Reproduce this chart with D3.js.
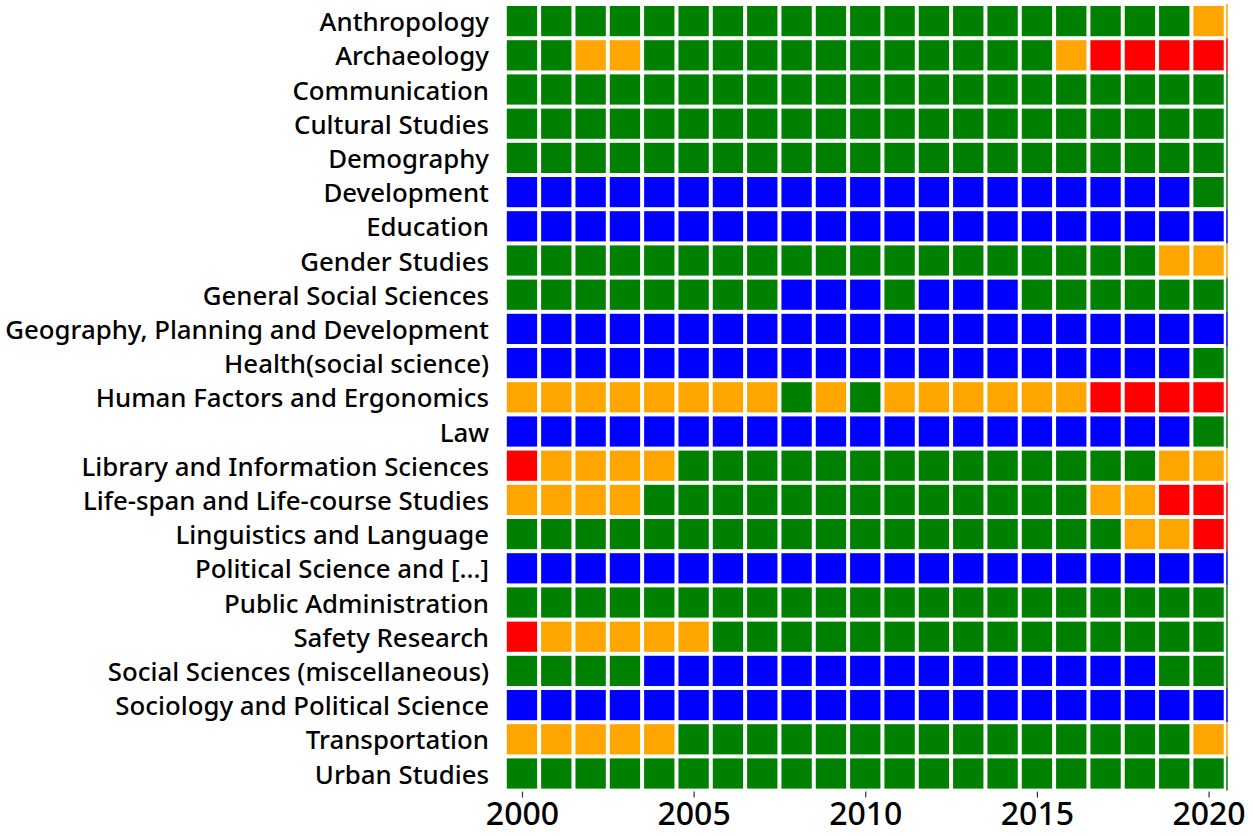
<!DOCTYPE html>
<html>
<head>
<meta charset="utf-8">
<script src="https://cdn.jsdelivr.net/npm/d3@7"></script>
<style>
  html, body { margin: 0; padding: 0; background: #fff; }
  svg { display: block; }
  text { font-family: "Noto Sans", sans-serif; fill: #000; }
</style>
</head>
<body>
<svg id="chart" width="1253" height="836"></svg>
<script>
const categories = [
  "Anthropology", "Archaeology", "Communication", "Cultural Studies", "Demography",
  "Development", "Education", "Gender Studies", "General Social Sciences",
  "Geography, Planning and Development", "Health(social science)",
  "Human Factors and Ergonomics", "Law", "Library and Information Sciences",
  "Life-span and Life-course Studies", "Linguistics and Language",
  "Political Science and [...]", "Public Administration", "Safety Research",
  "Social Sciences (miscellaneous)", "Sociology and Political Science",
  "Transportation", "Urban Studies"
];
const years = d3.range(2000, 2021);
const tickYears = [2000, 2005, 2010, 2015, 2020];
// Quartile-style class per year: G=green, B=blue, O=orange, R=red
const rows = [
  "GGGGGGGGGGGGGGGGGGGGO",
  "GGOOGGGGGGGGGGGGORRRR",
  "GGGGGGGGGGGGGGGGGGGGG",
  "GGGGGGGGGGGGGGGGGGGGG",
  "GGGGGGGGGGGGGGGGGGGGG",
  "BBBBBBBBBBBBBBBBBBBBG",
  "BBBBBBBBBBBBBBBBBBBBB",
  "GGGGGGGGGGGGGGGGGGGOO",
  "GGGGGGGGBBBGBBBGGGGGG",
  "BBBBBBBBBBBBBBBBBBBBB",
  "BBBBBBBBBBBBBBBBBBBBG",
  "OOOOOOOOGOGOOOOOORRRR",
  "BBBBBBBBBBBBBBBBBBBBG",
  "ROOOOGGGGGGGGGGGGGGOO",
  "OOOOGGGGGGGGGGGGGOORR",
  "GGGGGGGGGGGGGGGGGGOOR",
  "BBBBBBBBBBBBBBBBBBBBB",
  "GGGGGGGGGGGGGGGGGGGGG",
  "ROOOOOGGGGGGGGGGGGGGG",
  "GGGGBBBBBBBBBBBBBBBGG",
  "BBBBBBBBBBBBBBBBBBBBB",
  "OOOOOGGGGGGGGGGGGGGGO",
  "GGGGGGGGGGGGGGGGGGGGG"
];
const classes = ["B", "G", "O", "R"];
const classColors = ["#0000ff", "#008000", "#ffa500", "#ff0000"];

const cells = [];
rows.forEach((r, i) => r.split("").forEach((c, j) => cells.push({cat: categories[i], year: years[j], cls: c})));

const svg = d3.select("#chart");
const plotLeft = 504.8, colStep = 34.33, plotTop = 4, rowStep = 34.2;
const x = d3.scaleBand().domain(years).range([plotLeft, plotLeft + colStep * years.length]);
const y = d3.scaleBand().domain(categories).range([plotTop, plotTop + rowStep * categories.length]);
const color = d3.scaleOrdinal().domain(classes).range(classColors);
const gap = 2;

svg.append("g").selectAll("rect").data(cells).join("rect")
  .attr("x", d => x(d.year) + gap)
  .attr("y", d => y(d.cat) + gap)
  .attr("width", x.bandwidth() - 2 * gap)
  .attr("height", y.bandwidth() - 2 * gap)
  .attr("fill", d => color(d.cls));

// thin clipped sliver at the right edge
const lastYear = years[years.length - 1];
svg.append("g").selectAll("rect").data(cells.filter(d => d.year === lastYear)).join("rect")
  .attr("x", x(lastYear) + x.bandwidth() + 0.5)
  .attr("y", d => y(d.cat))
  .attr("width", 1.5)
  .attr("height", y.bandwidth())
  .attr("fill", d => color(d.cls));

// y labels
const labels = svg.append("g").selectAll("text").data(categories).join("text")
  .attr("x", 489)
  .attr("y", d => y(d) + y.bandwidth() / 2)
  .attr("text-anchor", "end")
  .attr("dominant-baseline", "central")
  .style("font-size", "22px")
  .style("font-weight", "500")
  .text(d => d);
let maxW = 0;
labels.each(function() { maxW = Math.max(maxW, this.getComputedTextLength()); });
const fs = 22 * 484 / maxW;
labels.style("font-size", fs + "px");

// x axis
const xAxis = svg.append("g").attr("transform", `translate(0,${plotTop + rowStep * categories.length + 1})`);
const xs = d3.scaleLinear().domain([2000, 2020]).range([x(2000) + x.bandwidth() / 2, x(2020) + x.bandwidth() / 2]);
xAxis.call(d3.axisBottom(xs).tickValues(tickYears).tickFormat(d3.format("d")).tickSize(6).tickPadding(5));
xAxis.select(".domain").remove();
xAxis.selectAll(".tick line").attr("stroke", "#333").attr("stroke-width", 1.2);
xAxis.selectAll(".tick text").style("font-size", "32px").style("font-weight", "500").attr("fill", "#000").style("font-family", "'Noto Sans', sans-serif");
</script>
</body>
</html>
